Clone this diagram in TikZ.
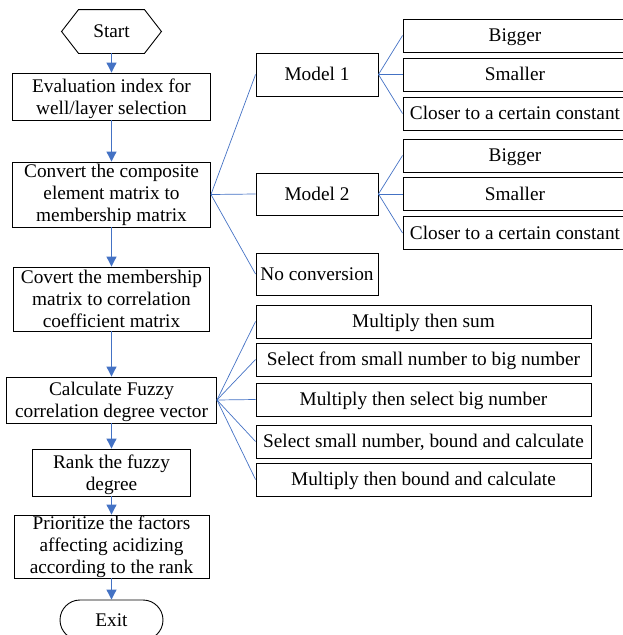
\documentclass[tikz,border=0pt]{standalone}
\usepackage{fontspec}
\setmainfont{Liberation Serif}
\usetikzlibrary{arrows.meta}
\definecolor{linkblue}{HTML}{4472C4}
% raises the first line of two-line boxes a little
\newcommand\firstline{\rule{0pt}{17.5pt}}

\begin{document}
\begin{tikzpicture}[x=1pt,y=-1pt,
  box/.style={draw=black, line width=0.9pt, fill=white, inner sep=0pt,
    align=center, font=\fontsize{19.3}{22}\selectfont},
  oneline/.style={box, text height=16.5pt, text depth=4pt},
  link/.style={draw=linkblue, line width=0.7pt},
  flow/.style={draw=linkblue, line width=1.1pt, -{Triangle[length=10pt,width=10pt]}}]

\useasboundingbox (0,0) rectangle (623,635);

% main column
\node[oneline, draw=none, fill=none, minimum width=99pt, minimum height=43pt] (start) at (111.5,31.5) {Start};
\draw[line width=0.9pt] (start.west) -- ([xshift=17pt]start.north west) -- ([xshift=-17pt]start.north east)
  -- (start.east) -- ([xshift=-17pt]start.south east) -- ([xshift=17pt]start.south west) -- cycle;

\node[box, minimum width=198pt, minimum height=47pt] (eval) at (111.5,96.5) {\firstline Evaluation index for\\well/layer selection};
\node[box, minimum width=198pt, minimum height=65pt] (conv) at (111.5,194.5) {Convert the composite\\element matrix to\\membership matrix};
\node[box, minimum width=196pt, minimum height=64pt] (corr) at (111.5,299) {Covert the membership\\matrix to correlation\\coefficient matrix};
\node[box, minimum width=210pt, minimum height=46pt] (calc) at (111.5,400) {\firstline Calculate Fuzzy\\correlation degree vector};
\node[box, minimum width=158pt, minimum height=47pt] (rank) at (111.5,472.5) {\firstline Rank the fuzzy\\degree};
\node[box, minimum width=195pt, minimum height=63pt] (prio) at (111.5,546.5) {Prioritize the factors\\affecting acidizing\\according to the rank};
\node[oneline, minimum width=103pt, minimum height=40pt, rounded corners=20pt] (exit) at (111.5,620) {Exit};

\draw[flow] (start.south) -- (eval.north);
\draw[flow] (eval.south) -- (conv.north);
\draw[flow] (conv.south) -- (corr.north);
\draw[flow] (corr.south) -- (calc.north);
\draw[flow] (calc.south) -- (rank.north);
\draw[flow] (rank.south) -- (prio.north);
\draw[flow] (prio.south) -- (exit.north);

% conversion models
\node[oneline, minimum width=122pt, minimum height=43pt] (m1) at (317,74.5) {Model 1};
\node[oneline, minimum width=122pt, minimum height=42pt] (m2) at (317,194) {Model 2};
\node[oneline, minimum width=122pt, minimum height=42pt] (none) at (317,274) {No conversion};

\node[oneline, minimum width=224pt, minimum height=33pt] (b1) at (515,35.5) {Bigger};
\node[oneline, minimum width=224pt, minimum height=33pt] (s1) at (515,74.5) {Smaller};
\node[oneline, minimum width=224pt, minimum height=33pt] (c1) at (515,113.5) {Closer to a certain constant};
\node[oneline, minimum width=224pt, minimum height=33pt] (b2) at (515,155.5) {Bigger};
\node[oneline, minimum width=224pt, minimum height=33pt] (s2) at (515,194) {Smaller};
\node[oneline, minimum width=224pt, minimum height=33pt] (c2) at (515,233) {Closer to a certain constant};

\draw[link] (conv.east) -- (m1.west);
\draw[link] (conv.east) -- (m2.west);
\draw[link] (conv.east) -- (none.west);
\draw[link] (m1.east) -- (b1.west);
\draw[link] (m1.east) -- (s1.west);
\draw[link] (m1.east) -- (c1.west);
\draw[link] (m2.east) -- (b2.west);
\draw[link] (m2.east) -- (s2.west);
\draw[link] (m2.east) -- (c2.west);

% composition operators
\node[oneline, minimum width=335pt, minimum height=33pt] (op1) at (423.5,321.5) {Multiply then sum};
\node[oneline, minimum width=335pt, minimum height=33pt] (op2) at (423.5,359.5) {Select from small number to big number};
\node[oneline, minimum width=335pt, minimum height=33pt] (op3) at (423.5,399.5) {Multiply then select big number};
\node[oneline, minimum width=335pt, minimum height=33pt] (op4) at (423.5,441.5) {Select small number, bound and calculate};
\node[oneline, minimum width=335pt, minimum height=33pt] (op5) at (423.5,479.5) {Multiply then bound and calculate};

\foreach \o in {op1,op2,op3,op4,op5}
  \draw[link] (calc.east) -- (\o.west);

\end{tikzpicture}
\end{document}
